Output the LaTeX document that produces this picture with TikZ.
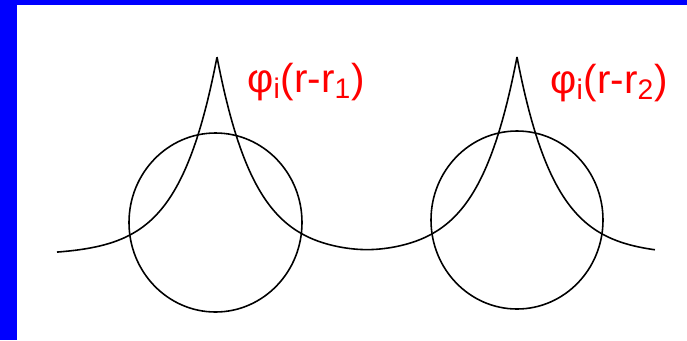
\documentclass[tikz,border=0pt]{standalone}
\usepackage{fontspec}
\setsansfont{Liberation Sans}
\usepackage{tikz}
\usetikzlibrary{positioning}
\usepackage{xcolor}
\definecolor{frame}{HTML}{0000FF}
\definecolor{labelred}{HTML}{FF0000}
\tikzset{orbital/.style={draw=black,line width=.9pt},sphere/.style={draw=black,line width=.9pt},orblabel/.style={text=labelred,font=\sffamily\fontsize{23}{27}\selectfont,anchor=base west,inner sep=0pt},
 declare function={dA(\t)=abs(\t-4.34);dB(\t)=abs(\t-10.34);orb(\t)=1.70+3.96*exp(-min(dA(\t),dB(\t))/0.76)*(1+exp(-2*abs(dA(\t)-dB(\t))/0.76))^0.5;}}
\begin{document}
\begin{tikzpicture}
\useasboundingbox (0,0) rectangle (13.74,6.8);
\fill[white] (0,0) rectangle (13.74,6.8);
\fill[frame] (0,0) rectangle (.34,6.8);
\fill[frame] (0,6.7) rectangle (13.74,6.8);
\draw[sphere] (4.31,2.35) ellipse[x radius=1.73,y radius=1.79];
\draw[sphere] (10.34,2.40) ellipse[x radius=1.72,y radius=1.78];
\foreach \a/\b in {1.14/4.34,4.34/10.34,10.34/13.1}{
 \draw[orbital] plot[domain=\a:\b,samples=160] (\x,{orb(\x)});
}
\node[orblabel] (phi1) at (4.94,4.96) {φ\textsubscript{i}(r-r\textsubscript{1})};
\node[orblabel] (phi2) at (11.0,4.94) {φ\textsubscript{i}(r-r\textsubscript{2})};
\end{tikzpicture}
\end{document}
